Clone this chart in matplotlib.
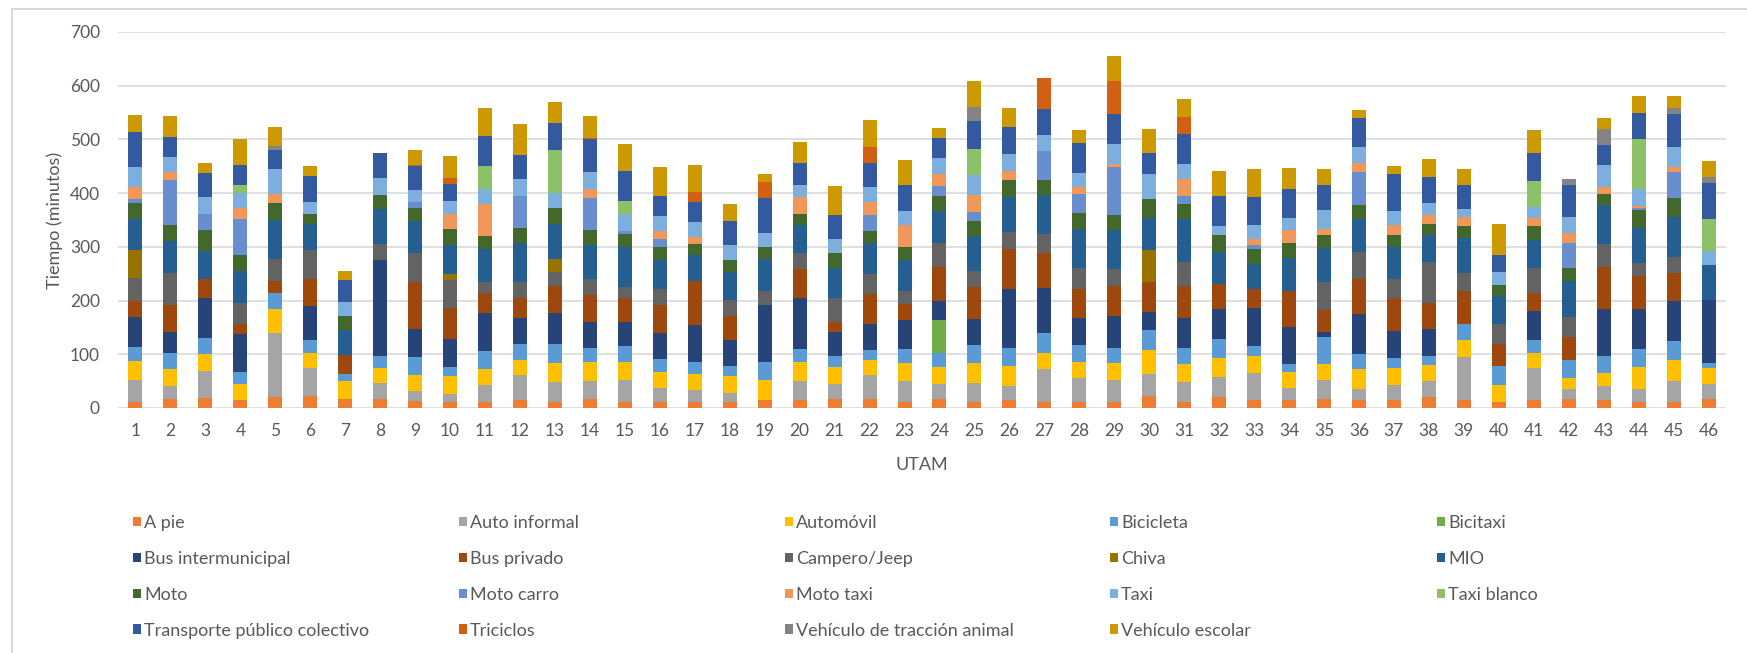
import matplotlib.pyplot as plt
from matplotlib.patches import Patch, Rectangle
import numpy as np

plt.rcParams["font.family"] = ["Lato", "DejaVu Sans"]

utam = [str(i) for i in range(1, 47)]

a_pie = [12, 16, 18, 14, 20, 22, 16, 16, 13, 11,
         12, 14, 12, 16, 12, 11, 11, 12, 14, 14,
         16, 16, 11, 16, 12, 14, 12, 12, 12, 22,
         11, 20, 14, 14, 16, 14, 14, 20, 14, 12,
         14, 16, 14, 11, 12, 16]
auto_informal = [40, 25, 50, 0, 120, 53, 0, 31, 19, 15,
                 31, 48, 37, 35, 40, 27, 23, 16, 0, 37,
                 29, 46, 40, 29, 35, 27, 61, 44, 40, 42,
                 38, 38, 52, 23, 37, 21, 29, 31, 81, 0,
                 61, 19, 27, 25, 38, 29]
automovil = [36, 32, 32, 31, 44, 27, 35, 27, 30, 33,
             30, 27, 34, 34, 34, 29, 30, 32, 38, 34,
             32, 27, 32, 32, 36, 38, 30, 29, 32, 44,
             32, 35, 31, 30, 29, 37, 32, 29, 32, 31,
             27, 21, 24, 40, 40, 30]
bicicleta = [25, 30, 31, 22, 30, 25, 13, 23, 33, 17,
             34, 30, 36, 27, 29, 25, 21, 19, 34, 25,
             19, 19, 27, 25, 34, 32, 36, 32, 27, 37,
             30, 36, 19, 14, 50, 29, 19, 17, 30, 36,
             25, 34, 31, 34, 35, 9]
bicitaxi = [0, 0, 0, 0, 0, 0, 0, 0, 0, 0,
            0, 0, 0, 0, 0, 0, 0, 0, 0, 0,
            0, 0, 0, 61, 0, 0, 0, 0, 0, 0,
            0, 0, 0, 0, 0, 0, 0, 0, 0, 0,
            0, 0, 0, 0, 0, 0]
bus_intermunicipal = [56, 38, 74, 70, 0, 63, 0, 179, 52, 53,
                      69, 48, 58, 48, 46, 48, 69, 48, 105, 94,
                      46, 48, 53, 37, 48, 111, 84, 50, 61, 34,
                      56, 55, 71, 69, 9, 74, 50, 50, 0, 0,
                      53, 0, 89, 74, 74, 117]
bus_privado = [30, 50, 36, 19, 23, 50, 35, 0, 88, 57,
               38, 38, 50, 50, 44, 52, 82, 44, 0, 55,
               19, 57, 31, 63, 61, 74, 66, 55, 55, 55,
               61, 46, 34, 68, 42, 65, 61, 48, 61, 40,
               34, 42, 78, 61, 53, 0]
campero = [43, 61, 0, 40, 40, 55, 0, 30, 53, 53,
           21, 29, 27, 30, 21, 30, 0, 30, 27, 29,
           44, 37, 24, 44, 29, 32, 35, 38, 32, 0,
           44, 0, 0, 0, 52, 50, 36, 76, 33, 37,
           46, 38, 42, 25, 30, 0]
chiva = [52, 0, 0, 0, 0, 0, 0, 0, 0, 10,
         0, 0, 23, 0, 0, 0, 0, 0, 0, 0,
         0, 0, 0, 0, 0, 0, 0, 0, 0, 61,
         0, 0, 0, 0, 0, 0, 0, 0, 0, 0,
         0, 0, 0, 0, 0, 0]
mio = [58, 59, 52, 59, 73, 48, 46, 65, 61, 55,
       61, 73, 66, 63, 73, 54, 48, 53, 60, 53,
       55, 57, 58, 59, 65, 65, 72, 74, 73, 59,
       80, 60, 48, 61, 63, 61, 58, 52, 65, 52,
       53, 66, 73, 66, 73, 65]
moto = [30, 30, 38, 30, 32, 19, 27, 26, 24, 29,
        25, 29, 29, 29, 25, 23, 21, 21, 21, 21,
        29, 23, 23, 29, 29, 31, 29, 29, 27, 36,
        27, 32, 27, 29, 25, 27, 23, 20, 23, 21,
        25, 25, 20, 32, 36, 0]
moto_carro = [7, 83, 30, 67, 0, 0, 0, 0, 10, 0,
              0, 59, 0, 59, 6, 15, 0, 0, 0, 0,
              0, 30, 0, 19, 15, 0, 53, 36, 90, 0,
              15, 0, 8, 0, 0, 61, 0, 0, 0, 0,
              0, 46, 0, 4, 48, 0]
moto_taxi = [23, 15, 0, 20, 17, 0, 0, 0, 0, 29,
             58, 0, 0, 17, 0, 16, 13, 0, 0, 30,
             0, 23, 42, 21, 32, 17, 0, 12, 6, 0,
             33, 0, 11, 23, 11, 17, 19, 16, 16, 0,
             16, 19, 14, 4, 10, 0]
taxi = [36, 29, 32, 29, 46, 21, 25, 31, 23, 23,
        29, 31, 29, 32, 32, 27, 29, 29, 27, 23,
        25, 29, 25, 30, 37, 31, 30, 27, 36, 46,
        27, 17, 25, 23, 34, 30, 25, 23, 15, 25,
        21, 29, 40, 32, 36, 27]
taxi_blanco = [0, 0, 0, 14, 0, 0, 0, 0, 0, 0,
               43, 0, 80, 0, 23, 0, 0, 0, 0, 0,
               0, 0, 0, 0, 50, 0, 0, 0, 0, 0,
               0, 0, 0, 0, 0, 0, 0, 0, 0, 0,
               48, 0, 0, 92, 0, 59]
transporte_colectivo = [65, 37, 44, 38, 35, 48, 42, 46, 44, 32,
                        56, 45, 50, 60, 57, 38, 36, 44, 65, 42,
                        46, 44, 50, 37, 52, 52, 48, 55, 57, 38,
                        57, 55, 53, 53, 48, 53, 69, 48, 46, 30,
                        52, 61, 38, 50, 63, 66]
triciclos = [0, 0, 0, 0, 0, 0, 0, 0, 2, 12,
             0, 0, 0, 2, 0, 0, 20, 0, 29, 0,
             0, 30, 0, 0, 0, 0, 59, 0, 60, 0,
             30, 0, 0, 0, 0, 0, 0, 0, 0, 0,
             0, 0, 0, 0, 0, 0]
traccion_animal = [0, 0, 0, 0, 7, 0, 0, 0, 0, 0,
                   0, 0, 0, 0, 0, 0, 0, 0, 0, 0,
                   0, 0, 0, 0, 25, 0, 0, 0, 0, 0,
                   0, 0, 0, 0, 0, 0, 0, 0, 0, 0,
                   0, 10, 30, 0, 10, 12]
escolar = [33, 38, 19, 48, 36, 20, 16, 0, 28, 40,
           52, 57, 38, 42, 50, 53, 50, 32, 16, 38,
           53, 50, 46, 19, 48, 34, 0, 25, 48, 45,
           34, 48, 52, 40, 29, 15, 15, 34, 29, 59,
           43, 0, 19, 30, 23, 30]

series = [
    ("A pie", a_pie, "#ED7D31"),
    ("Auto informal", auto_informal, "#A5A5A5"),
    ("Automóvil", automovil, "#FFC000"),
    ("Bicicleta", bicicleta, "#5B9BD5"),
    ("Bicitaxi", bicitaxi, "#70AD47"),
    ("Bus intermunicipal", bus_intermunicipal, "#264478"),
    ("Bus privado", bus_privado, "#9E480E"),
    ("Campero/Jeep", campero, "#636363"),
    ("Chiva", chiva, "#997300"),
    ("MIO", mio, "#255E91"),
    ("Moto", moto, "#43682B"),
    ("Moto carro", moto_carro, "#698ED0"),
    ("Moto taxi", moto_taxi, "#F1975A"),
    ("Taxi", taxi, "#7CAFDD"),
    ("Taxi blanco", taxi_blanco, "#8CC168"),
    ("Transporte público colectivo", transporte_colectivo, "#335AA1"),
    ("Triciclos", triciclos, "#D26012"),
    ("Vehículo de tracción animal", traccion_animal, "#848484"),
    ("Vehículo escolar", escolar, "#CC9A00"),
]

text_color = "#595959"
grid_color = "#D9D9D9"

fig = plt.figure(figsize=(17.47, 6.53), dpi=100)
ax = fig.add_axes([118 / 1747, 1 - 408 / 653, 1608 / 1747, 376 / 653])

x = np.arange(1, len(utam) + 1)
bottom = np.zeros(len(utam))
for name, vals, color in series:
    vals = np.array(vals, dtype=float)
    ax.bar(x, vals, width=0.4, bottom=bottom, color=color, label=name,
           zorder=3)
    bottom += vals

ax.set_xlim(0.5, len(utam) + 0.5)
ax.set_ylim(0, 700)
ax.set_yticks(range(0, 701, 100))
ax.set_xticks(x)
ax.set_xticklabels(utam)
ax.grid(axis="y", color=grid_color, linewidth=1.2, zorder=0)
for s in ax.spines.values():
    s.set_visible(False)
ax.tick_params(axis="both", length=0, labelsize=12.5, labelcolor=text_color)
ax.tick_params(axis="x", pad=11)
ax.tick_params(axis="y", pad=13)

ax.set_ylabel("Tiempo (minutos)", fontsize=13, color=text_color)
ax.yaxis.set_label_coords(-0.034, 0.5)
ax.set_xlabel("UTAM", fontsize=13, color=text_color)
ax.xaxis.set_label_coords(0.5, -0.13)

# legend laid out in five equal-width columns, filled row by row
handles = [Patch(facecolor=c, label=n) for n, _, c in series]
col_x = [133, 459, 785, 1110, 1437]
for i, cx in enumerate(col_x):
    fig.legend(handles=handles[i::5], loc="upper left",
               bbox_to_anchor=(cx / 1747, 1 - 515 / 653),
               frameon=False, fontsize=13, labelcolor=text_color,
               handlelength=0.42, handleheight=0.42, handletextpad=0.2,
               labelspacing=1.1, borderpad=0, borderaxespad=0)

# chart area border
fig.patches.append(Rectangle((12 / 1747, -0.1), 1.2, 1.1 - 9 / 653,
                             transform=fig.transFigure, fill=False,
                             edgecolor=grid_color, linewidth=1.5))

fig.savefig("out.png", dpi=100)
